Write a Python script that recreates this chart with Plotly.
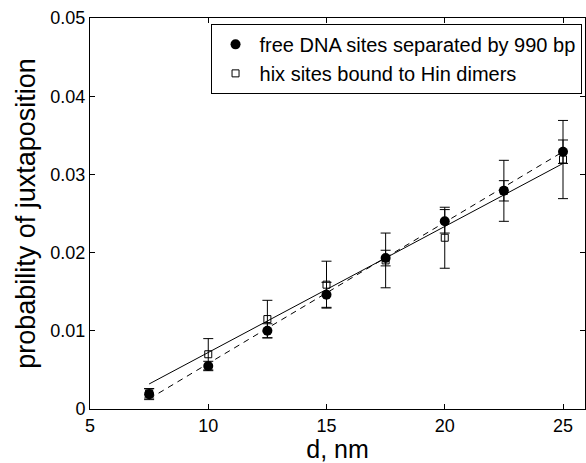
import plotly.graph_objects as go

# distances (nm)
d_nm = [7.5, 10, 12.5, 15, 17.5, 20, 22.5, 25]

# free DNA sites separated by 990 bp (filled circles)
free_dna = [0.0019, 0.0055, 0.0100, 0.0146, 0.0193, 0.0240, 0.0279, 0.0329]
free_dna_err = [0.0007, 0.0006, 0.0009, 0.0016, 0.0010, 0.0015, 0.0013, 0.0015]

# hix sites bound to Hin dimers (open squares)
hix_hin = [0.0020, 0.0070, 0.0115, 0.0159, 0.0190, 0.0219, 0.0279, 0.0319]
hix_hin_err = [0.0006, 0.0020, 0.0024, 0.0030, 0.0035, 0.0039, 0.0039, 0.0050]

# linear fits (at the ends of the lines)
fit_x = [7.5, 25]
fit_hix = [0.0032, 0.0314]     # solid line
fit_free = [0.0013, 0.0329]    # dashed line

x_ticks = [5, 10, 15, 20, 25]
y_ticks = [0, 0.01, 0.02, 0.03, 0.04, 0.05]
y_ticklabels = ["0", "0.01", "0.02", "0.03", "0.04", "0.05"]

FONT = "Liberation Sans, Arial, Helvetica, sans-serif"

fig = go.Figure()

fig.add_trace(go.Scatter(
    x=fit_x, y=fit_hix, mode="lines",
    line=dict(color="black", width=1), showlegend=False, hoverinfo="skip"))
fig.add_trace(go.Scatter(
    x=fit_x, y=fit_free, mode="lines",
    line=dict(color="black", width=1, dash="6px,5px"), showlegend=False, hoverinfo="skip"))

fig.add_trace(go.Scatter(
    x=d_nm, y=hix_hin, mode="markers", name="hix sites bound to Hin dimers",
    marker=dict(symbol="square-open", size=7, color="black", line=dict(width=1, color="black")),
    error_y=dict(type="data", array=hix_hin_err, visible=True, color="black", thickness=1, width=5),
    legendrank=2))

fig.add_trace(go.Scatter(
    x=d_nm, y=free_dna, mode="markers", name="free DNA sites separated by 990 bp",
    marker=dict(symbol="circle", size=10, color="black"),
    error_y=dict(type="data", array=free_dna_err, visible=True, color="black", thickness=1, width=5),
    legendrank=1))

fig.update_layout(
    width=586, height=463,
    margin=dict(l=90, r=1, t=18, b=54),
    paper_bgcolor="white", plot_bgcolor="white",
    font=dict(family=FONT, color="black", size=18),
    showlegend=True,
    legend=dict(
        x=0.993, y=0.985, xanchor="right", yanchor="top",
        bordercolor="black", borderwidth=1, bgcolor="white",
        font=dict(size=20, family=FONT), tracegroupgap=0, itemwidth=38,
    ),
)

fig.update_xaxes(
    range=[5, 25.93], tickvals=x_ticks, ticks="inside", ticklen=5, tickcolor="black",
    showline=True, linecolor="black", linewidth=1, mirror="ticks", showgrid=False, zeroline=False,
    tickfont=dict(size=18), title=dict(text="d, nm", font=dict(size=25), standoff=7),
)
fig.update_yaxes(
    range=[0, 0.05], tickvals=y_ticks, ticktext=y_ticklabels, ticks="inside", ticklen=5, tickcolor="black",
    showline=True, linecolor="black", linewidth=1, mirror="ticks", showgrid=False, zeroline=False,
    tickfont=dict(size=18), title=dict(text="probability of juxtaposition", font=dict(size=27), standoff=6),
)

fig.write_html("out.html")
